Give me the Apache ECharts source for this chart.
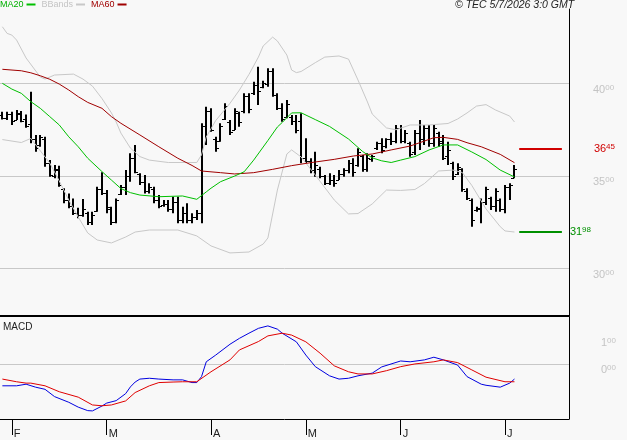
<!DOCTYPE html>
<html>
<head>
<meta charset="utf-8">
<title>TEC</title>
<script src="https://cdn.jsdelivr.net/npm/echarts@6/dist/echarts.min.js"></script>
<style>
  html, body { margin: 0; padding: 0; background: #f8f8f8; }
  #chart { width: 627px; height: 440px; }
</style>
</head>
<body>
<div id="chart"></div>
<script>
// trading days per month (end of Jan .. start of Jul)
const monthNames = ['J', 'F', 'M', 'A', 'M', 'J', 'J'];
const monthBars = [2, 20, 22, 20, 20, 22, 3];
const emptyBars = 11; // free space right of the last bar

const opens = [
  3830, 3815, 3835, 3805, 3835, 3810, 3780, 3700, 3665, 3700,
  3570, 3500, 3530, 3430, 3370, 3340, 3300, 3290, 3300, 3250,
  3310, 3430, 3410, 3320, 3250, 3400, 3440, 3500, 3600, 3510,
  3470, 3420, 3430, 3370, 3345, 3350, 3320, 3360, 3260, 3300,
  3260, 3280, 3300, 3770, 3850, 3700, 3690, 3810, 3790, 3750,
  3840, 3850, 3930, 3950, 3990, 3980, 4000, 4070, 3940, 3870,
  3820, 3820, 3800, 3800, 3600, 3580, 3530, 3540, 3500, 3460,
  3480, 3480, 3510, 3530, 3570, 3560, 3610, 3540, 3590, 3650,
  3680, 3660, 3700, 3690, 3760, 3690, 3680, 3630, 3730, 3700,
  3760, 3680, 3730, 3690, 3610, 3570, 3510, 3540, 3420, 3370,
  3315, 3320, 3360, 3380, 3340, 3370, 3320, 3440, 3490
];
const highs = [
  3848, 3848, 3848, 3857, 3851, 3833, 3956, 3722, 3722, 3712,
  3586, 3559, 3556, 3434, 3406, 3379, 3329, 3376, 3307, 3307,
  3442, 3520, 3424, 3334, 3379, 3451, 3532, 3623, 3668, 3515,
  3505, 3461, 3442, 3397, 3370, 3370, 3388, 3388, 3334, 3352,
  3298, 3316, 3785, 3875, 3866, 3712, 3785, 3893, 3803, 3866,
  3848, 3947, 3947, 4010, 4091, 4015, 4082, 4082, 3947, 3893,
  3911, 3830, 3830, 3839, 3704, 3596, 3631, 3550, 3505, 3515,
  3505, 3532, 3542, 3586, 3596, 3650, 3614, 3623, 3614, 3685,
  3704, 3704, 3734, 3776, 3776, 3749, 3685, 3749, 3803, 3776,
  3776, 3776, 3739, 3722, 3685, 3577, 3569, 3542, 3434, 3379,
  3334, 3379, 3442, 3388, 3434, 3379, 3451, 3461, 3559
];
const lows = [
  3806, 3803, 3776, 3803, 3790, 3761, 3677, 3631, 3658, 3550,
  3496, 3488, 3442, 3352, 3325, 3289, 3271, 3280, 3235, 3235,
  3307, 3397, 3298, 3235, 3244, 3397, 3397, 3469, 3515, 3451,
  3406, 3406, 3352, 3325, 3334, 3307, 3298, 3244, 3244, 3244,
  3244, 3262, 3244, 3668, 3739, 3631, 3685, 3803, 3722, 3749,
  3766, 3839, 3839, 3938, 3884, 3974, 3983, 3929, 3857, 3793,
  3812, 3776, 3731, 3569, 3569, 3515, 3496, 3488, 3451, 3451,
  3442, 3478, 3496, 3515, 3496, 3550, 3523, 3523, 3577, 3641,
  3623, 3650, 3668, 3677, 3677, 3677, 3604, 3614, 3641, 3668,
  3658, 3658, 3658, 3586, 3559, 3478, 3505, 3415, 3370, 3226,
  3307, 3244, 3343, 3316, 3307, 3307, 3298, 3370, 3488
];
const closes = [
  3815, 3835, 3800, 3840, 3800, 3770, 3700, 3650, 3710, 3570,
  3505, 3540, 3450, 3370, 3340, 3300, 3290, 3320, 3250, 3290,
  3430, 3410, 3330, 3250, 3370, 3440, 3500, 3600, 3520, 3470,
  3420, 3440, 3370, 3340, 3350, 3320, 3360, 3260, 3300, 3260,
  3280, 3300, 3770, 3850, 3750, 3650, 3770, 3880, 3740, 3850,
  3790, 3930, 3860, 3990, 3960, 4005, 4070, 3940, 3870, 3810,
  3890, 3800, 3750, 3600, 3580, 3530, 3560, 3500, 3460, 3480,
  3460, 3510, 3530, 3570, 3520, 3630, 3540, 3600, 3610, 3680,
  3640, 3700, 3690, 3760, 3690, 3730, 3620, 3730, 3700, 3760,
  3680, 3760, 3680, 3600, 3640, 3500, 3550, 3430, 3380, 3260,
  3325, 3360, 3430, 3340, 3420, 3320, 3440, 3450, 3540
];

// indicators, [bar index, value]
const ma20 = [[0,4001],[2,3970],[4,3947],[6,3902],[8,3866],[10,3821],[12,3776],[14,3712],[16,3658],[18,3596],[21,3524],[23,3478],[25,3432],[27,3410],[29,3397],[33,3388],[38,3392],[41,3374],[43,3414],[44,3434],[46,3469],[49,3500],[51,3523],[53,3586],[56,3692],[58,3765],[59,3789],[61,3841],[63,3842],[66,3805],[69,3768],[73,3700],[76,3632],[78,3598],[80,3582],[82,3573],[84,3586],[87,3605],[90,3641],[93,3668],[96,3668],[99,3630],[102,3589],[105,3532],[108,3495]];
const ma60 = [[0,4077],[4,4069],[6,4058],[8,4042],[10,4023],[12,3997],[14,3965],[16,3929],[18,3898],[21,3866],[23,3821],[25,3785],[29,3722],[33,3658],[37,3596],[40,3557],[42,3527],[46,3518],[49,3511],[53,3518],[57,3536],[61,3556],[65,3572],[70,3590],[74,3608],[78,3619],[82,3641],[86,3662],[91,3707],[93,3709],[96,3698],[98,3680],[101,3658],[105,3617],[108,3572]];
const bbUpper = [[0,4307],[1,4271],[2,4262],[3,4235],[5,4138],[8,4035],[9,4024],[11,4046],[15,4051],[17,4024],[19,3986],[21,3919],[23,3841],[24,3792],[25,3732],[27,3651],[29,3605],[31,3586],[35,3573],[41,3573],[42,3614],[43,3711],[45,3800],[48,3893],[50,3965],[52,4049],[54,4143],[55,4203],[57,4251],[58,4230],[60,4154],[61,4073],[62,4059],[63,4065],[66,4113],[68,4143],[71,4149],[73,4132],[75,4019],[77,3900],[78,3835],[81,3760],[83,3750],[86,3776],[90,3776],[94,3784],[96,3808],[98,3841],[100,3878],[102,3886],[104,3857],[107,3824],[108,3792]];
const bbLower = [[0,3697],[4,3681],[6,3703],[9,3603],[10,3570],[12,3473],[14,3370],[16,3278],[18,3192],[20,3154],[23,3138],[26,3170],[28,3197],[31,3208],[37,3208],[41,3176],[44,3122],[48,3084],[52,3089],[55,3132],[56,3165],[58,3424],[60,3619],[61,3641],[63,3603],[66,3505],[70,3370],[73,3295],[75,3297],[78,3349],[81,3424],[84,3422],[87,3427],[89,3459],[92,3527],[95,3532],[97,3519],[99,3449],[102,3322],[105,3226],[106,3203],[108,3197]];
const macdLine = [[0,-81],[3,-81],[5,-75],[7,-86],[9,-94],[11,-121],[14,-142],[16,-160],[18,-173],[19,-174],[21,-156],[22,-145],[24,-136],[26,-110],[27,-85],[28,-67],[29,-56],[31,-53],[33,-56],[36,-59],[38,-59],[40,-69],[41,-69],[42,-47],[43,8],[45,33],[48,73],[50,95],[52,114],[54,132],[56,141],[58,129],[59,114],[62,82],[64,33],[66,-10],[69,-44],[71,-56],[73,-53],[75,-44],[78,-34],[80,-11],[84,11],[86,8],[89,15],[91,25],[93,15],[96,-4],[98,-47],[101,-75],[102,-79],[105,-86],[107,-71],[108,-56]];
const macdSignal = [[0,-56],[3,-66],[5,-71],[6,-71],[9,-81],[12,-103],[16,-123],[19,-152],[21,-155],[23,-152],[26,-137],[28,-106],[31,-81],[33,-69],[36,-67],[38,-66],[41,-66],[44,-29],[48,15],[50,52],[54,83],[56,104],[59,114],[61,107],[64,82],[67,40],[70,-7],[73,-29],[75,-37],[78,-37],[81,-25],[84,-10],[87,0],[91,8],[93,15],[96,5],[99,-22],[102,-49],[106,-66],[108,-66]];

const priceTicks = [3000, 3500, 4000];
const macdTicks = [0, 100];
const macdGrid = [0];
const resistance = 3645;
const support = 3198;

const FONT = '"Liberation Sans", Arial, sans-serif';

// x categories, one per trading day, blank slots at the end
const categories = [];
const monthStarts = {};
monthNames.forEach(function (m, mi) {
  for (let d = 0; d < monthBars[mi]; d++) {
    if (d === 0 && mi > 0) monthStarts[categories.length] = m;
    categories.push(mi + '-' + d);
  }
});
for (let k = 0; k < emptyBars; k++) categories.push('e' + k);
const lastBar = opens.length - 1;

// 4000 -> "40" with a small raised "00"
function supText(v) {
  const n = Math.round(v);
  const lo = Math.abs(n) % 100;
  return '{a|' + Math.floor(n / 100) + '}{b|' + (lo < 10 ? '0' : '') + lo + '}';
}
function supRich(color) {
  return {
    a: { fontSize: 11, lineHeight: 12, color: color, fontFamily: FONT },
    b: { fontSize: 8, lineHeight: 12, color: color, fontFamily: FONT, verticalAlign: 'top', padding: [0, 0, 4, 0] }
  };
}

function renderBar(params, api) {
  const i = api.value(0);
  const top = api.coord([i, api.value(2)]);
  const bot = api.coord([i, api.value(3)]);
  const o = api.coord([i, api.value(1)]);
  const c = api.coord([i, api.value(4)]);
  const x = Math.round(top[0]);
  const yo = Math.round(o[1]) + 0.5;
  const yc = Math.round(c[1]) + 0.5;
  return {
    type: 'group',
    children: [
      { type: 'line', shape: { x1: x, y1: top[1], x2: x, y2: bot[1] }, style: { stroke: '#000', lineWidth: 2 } },
      { type: 'line', shape: { x1: x - 3, y1: yo, x2: x, y2: yo }, style: { stroke: '#000', lineWidth: 1 } },
      { type: 'line', shape: { x1: x, y1: yc, x2: x + 3, y2: yc }, style: { stroke: '#000', lineWidth: 1 } }
    ]
  };
}

function levelLine(value, color, gap) {
  return [
    {
      coord: [lastBar + 1, value],
      lineStyle: { color: color, width: 2, type: 'solid' },
      label: { show: true, position: 'end', distance: gap, formatter: function () { return supText(value); }, rich: supRich(color) }
    },
    { coord: [lastBar + 10, value] }
  ];
}

function isMonthStart(idx) {
  return idx in monthStarts;
}

const chart = echarts.init(document.getElementById('chart'));

const option = {
  backgroundColor: '#f8f8f8',
  animation: false,
  textStyle: { fontFamily: FONT },
  title: [
    { text: '\u00a9 TEC 5/7/2026 3:0 GMT', left: 455, top: 0, padding: 0,
      textStyle: { fontSize: 10.5, fontStyle: 'italic', fontWeight: 'normal', color: '#222', fontFamily: FONT } },
    { text: 'MACD', left: 3, top: 322, padding: 0,
      textStyle: { fontSize: 10, fontWeight: 'normal', color: '#222', fontFamily: FONT } }
  ],
  legend: {
    left: 0, top: 0, padding: 0,
    align: 'right',
    icon: 'rect',
    itemWidth: 9, itemHeight: 2, itemGap: 6,
    selectedMode: false,
    textStyle: { fontSize: 9, fontFamily: FONT, padding: [0, -2, 0, 0] },
    data: [
      { name: 'MA20', textStyle: { color: '#00b000' } },
      { name: 'BBands', textStyle: { color: '#c4c4c4' } },
      { name: 'MA60', textStyle: { color: '#a00000' } }
    ]
  },
  grid: [
    { left: 0, right: 58, top: 9, height: 307 },
    { left: 0, right: 58, top: 317, height: 102 }
  ],
  xAxis: [
    {
      type: 'category', gridIndex: 0, data: categories, boundaryGap: true,
      axisLine: { onZero: false, lineStyle: { color: '#000', width: 2 } },
      axisTick: { show: false }, axisLabel: { show: false }, splitLine: { show: false }
    },
    {
      type: 'category', gridIndex: 1, data: categories, boundaryGap: true,
      axisLine: { onZero: false, lineStyle: { color: '#000', width: 1 } },
      axisTick: {
        show: true, alignWithLabel: true, length: 16, interval: isMonthStart,
        lineStyle: { color: '#000', width: 1 }
      },
      axisLabel: {
        show: true, interval: isMonthStart,
        formatter: function (val, idx) { return monthStarts[idx] || ''; },
        align: 'left', margin: 9, padding: [0, 0, 0, 2],
        fontSize: 11, color: '#222', fontFamily: FONT
      },
      splitLine: { show: false }
    }
  ],
  yAxis: [
    {
      type: 'value', gridIndex: 0, position: 'right', min: 2743, max: 4403,
      axisLine: { show: true, lineStyle: { color: '#000', width: 1 } },
      axisTick: { show: false, customValues: priceTicks },
      splitLine: { show: true, lineStyle: { color: '#c8c8c8', width: 1 } },
      axisLabel: {
        customValues: priceTicks, margin: 24, verticalAlign: 'top',
        formatter: supText, rich: supRich('#c4c4c4')
      }
    },
    {
      type: 'value', gridIndex: 1, position: 'right', min: -204, max: 174,
      axisLine: { show: true, lineStyle: { color: '#000', width: 1 } },
      axisTick: { show: false, customValues: macdGrid },
      splitLine: { show: true, lineStyle: { color: '#c8c8c8', width: 1 } },
      axisLabel: {
        customValues: macdTicks, margin: 32, verticalAlign: 'top',
        formatter: supText, rich: supRich('#c4c4c4')
      }
    }
  ],
  series: [
    {
      name: 'BBands', type: 'line', xAxisIndex: 0, yAxisIndex: 0, data: bbUpper,
      symbol: 'none', color: '#c8c8c8', lineStyle: { width: 1, color: '#c8c8c8' }, silent: true
    },
    {
      name: 'BBands', type: 'line', xAxisIndex: 0, yAxisIndex: 0, data: bbLower,
      symbol: 'none', color: '#c8c8c8', lineStyle: { width: 1, color: '#c8c8c8' }, silent: true
    },
    {
      name: 'MA60', type: 'line', xAxisIndex: 0, yAxisIndex: 0, data: ma60,
      symbol: 'none', color: '#a00000', lineStyle: { width: 1, color: '#a00000' }, silent: true
    },
    {
      name: 'MA20', type: 'line', xAxisIndex: 0, yAxisIndex: 0, data: ma20,
      symbol: 'none', color: '#00c000', lineStyle: { width: 1, color: '#00c000' }, silent: true
    },
    {
      name: 'price', type: 'custom', xAxisIndex: 0, yAxisIndex: 0,
      renderItem: renderBar, clip: true,
      encode: { x: 0, y: [1, 2, 3, 4] },
      data: opens.map(function (o, i) { return [i, o, highs[i], lows[i], closes[i]]; }),
      markLine: {
        symbol: 'none', silent: true, animation: false,
        data: [
          levelLine(resistance, '#d00000', 32),
          levelLine(support, '#009000', 8)
        ]
      }
    },
    {
      name: 'MACD', type: 'line', xAxisIndex: 1, yAxisIndex: 1, data: macdLine,
      symbol: 'none', lineStyle: { width: 1, color: '#0000e0' }, silent: true
    },
    {
      name: 'Signal', type: 'line', xAxisIndex: 1, yAxisIndex: 1, data: macdSignal,
      symbol: 'none', lineStyle: { width: 1, color: '#e00000' }, silent: true
    }
  ]
};

chart.setOption(option);
</script>
</body>
</html>
